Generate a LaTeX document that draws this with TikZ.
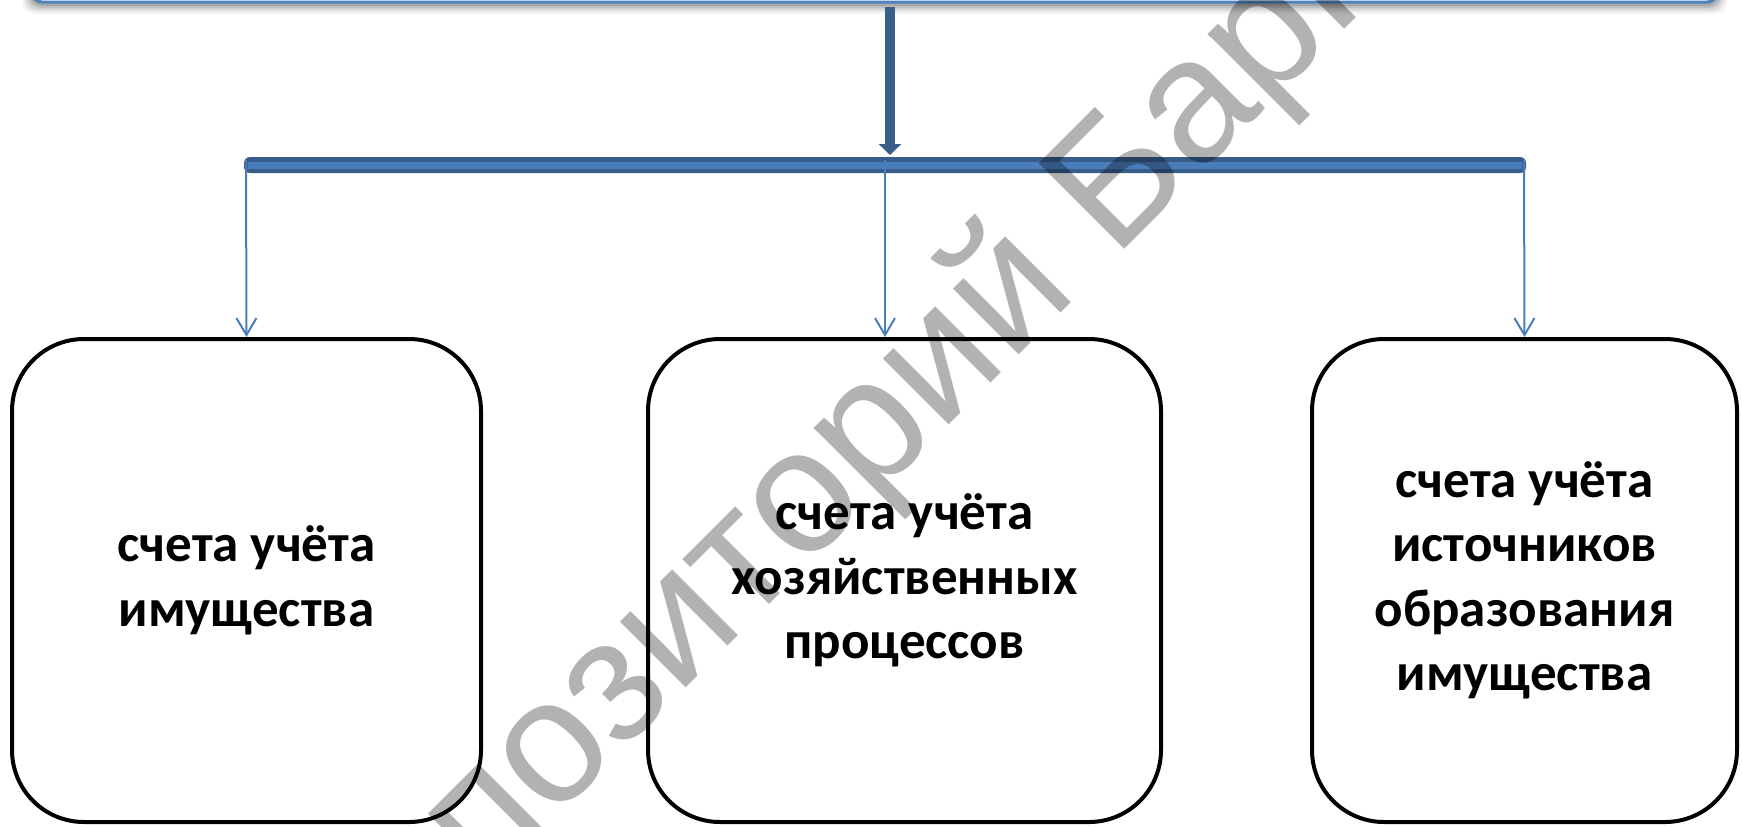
\documentclass[tikz,border=0pt]{standalone}
\usepackage{fontspec}
\newfontfamily\boxfont{Carlito}
\newfontfamily\wmfont{Liberation Sans}
\usetikzlibrary{arrows.meta}
\definecolor{topblue}{HTML}{4F81BD}
\definecolor{darkblue}{HTML}{385D8A}
\definecolor{midblue}{HTML}{4A7EBB}
\tikzset{
  box/.style={draw=black, line width=2pt, rounded corners=36pt, minimum height=241.5pt,
    align=center, inner sep=0pt,
    font={\boxfont\bfseries\fontsize{26.5pt}{32.25pt}\selectfont}},
  conn/.style={draw=midblue, line width=1pt, -{Straight Barb[width=10pt,length=8.5pt,line width=1pt]}},
  fatarrow/.style={draw=darkblue, line width=5pt, -{Triangle[width=11pt,length=5.5pt]}},
  watermark/.style={font={\wmfont\fontsize{88pt}{100pt}\selectfont}, text=black, text opacity=0.3, inner sep=0pt, rotate=45, anchor=base west}
}
\begin{document}
\begin{tikzpicture}[x=0.5pt,y=-0.5pt]
\useasboundingbox (0,0) rectangle (1742,826);
\clip (0,0) rectangle (1742,826);
% top box with soft shadow
\foreach \d/\o in {10/0.04,8/0.06,6/0.08,4/0.10,2/0.12}{
  \fill[black, opacity=\o, rounded corners=6pt] (32-\d,-60) rectangle (1717+\d,4+\d);
}
\draw[topblue, line width=1.5pt, fill=white, rounded corners=5pt] (32,-60) rectangle (1717,2);
\coordinate (topout) at (890,7);
\coordinate (barin) at (890,155);
\draw[fatarrow] (topout) -- (barin);
% bar
\fill[darkblue, rounded corners=3pt] (244,157) rectangle (1526,173);
\fill[midblue] (248,162) rectangle (1522,168.5);
\coordinate (b1) at (246,160);
\coordinate (b2) at (885,160);
\coordinate (b3) at (1524,160);
% boxes
\node[box, minimum width=234.5pt] (L) at (246.5,580.5) {счета учёта\\имущества};
\node[box, minimum width=256.5pt] (M) at (904.5,580.5) {счета учёта\\хозяйственных\\процессов};
\node[box, minimum width=212.5pt] (R) at (1524.5,580.5) {счета учёта\\источников\\образования\\имущества};
\draw[conn] (b1) -- (L.north);
\draw[conn] (b2) -- (b2 |- M.north);
\draw[conn] (b3) -- (R.north);
% watermark
\node[watermark] (wm) at (338,1036) {Репозиторий БарГУ};
\end{tikzpicture}
\end{document}
